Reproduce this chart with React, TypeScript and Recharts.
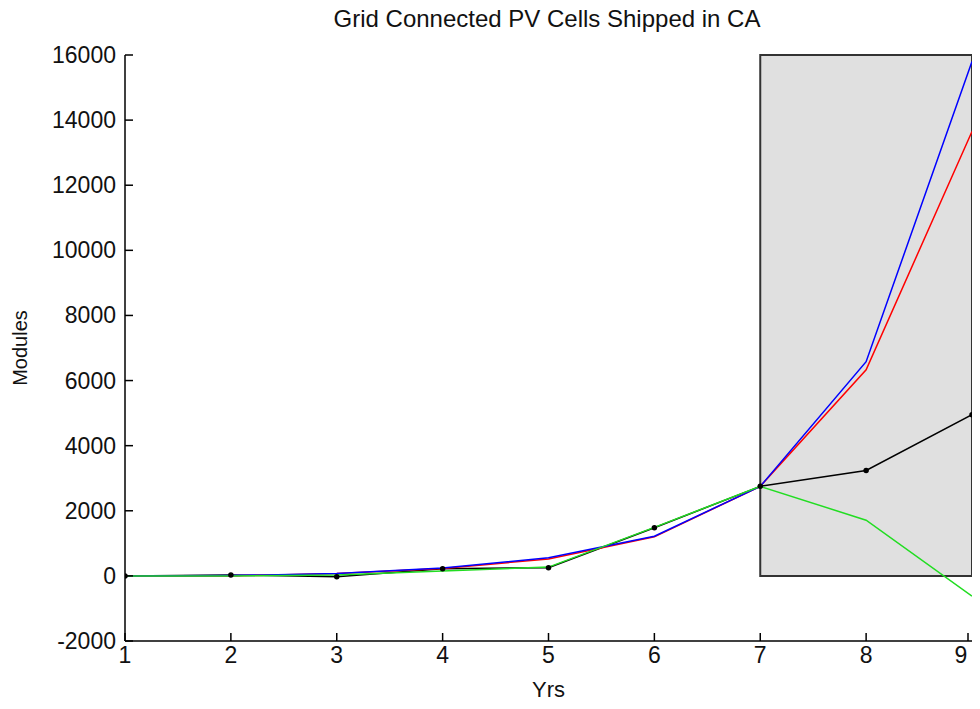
import React from 'react';
import { LineChart, Line, XAxis, YAxis, ReferenceArea } from 'recharts';

const years = [1, 2, 3, 4, 5, 6, 7, 8, 9];
const actual = [0, 30, -30, 220, 250, 1480, 2750, 3240, 4950];
const redSeries = [0, 0, 70, 230, 520, 1200, 2750, 6330, 13650];
const blueSeries = [0, 10, 70, 240, 560, 1220, 2750, 6580, 15800];
const greenSeries = [0, 0, 30, 150, 270, 1490, 2750, 1710, -620];
const xTicks = [1, 2, 3, 4, 5, 6, 7, 8, 9];
const yTicks = [-2000, 0, 2000, 4000, 6000, 8000, 10000, 12000, 14000, 16000];

const data = years.map((y, i) => ({
  yr: y,
  actual: actual[i],
  red: redSeries[i],
  blue: blueSeries[i],
  green: greenSeries[i],
}));

const FONT = '"Liberation Sans", Arial, sans-serif';

const XTick = (props: any) => {
  const { x, y, payload } = props;
  return (
    <g>
      <line x1={x} y1={y} x2={x} y2={y - 8} stroke="#000" strokeWidth={1.5} />
      <text x={payload.value === 9 ? x - 7 : x} y={y + 22} textAnchor="middle" fontSize={23} fontFamily={FONT} fill="#111">
        {payload.value}
      </text>
    </g>
  );
};

const YTick = (props: any) => {
  const { x, y, payload } = props;
  return (
    <g>
      <line x1={x} y1={y} x2={x + 8} y2={y} stroke="#000" strokeWidth={1.5} />
      <text x={x - 9} y={y + 8} textAnchor="end" fontSize={23} fontFamily={FONT} fill="#111">
        {payload.value}
      </text>
    </g>
  );
};

export default function App() {
  return (
    <div style={{ width: 964, height: 693, background: '#fff', position: 'relative' }}>
      <LineChart
        width={964}
        height={693}
        data={data}
        margin={{ top: 47, right: 0, bottom: 0, left: 0 }}
      >
        <XAxis
          dataKey="yr"
          type="number"
          domain={[1, 9]}
          ticks={xTicks}
          allowDataOverflow
          tickSize={0}
          tickMargin={0}
          tickLine={false}
          height={60}
          stroke="#000"
          strokeWidth={1.5}
          tick={<XTick />}
          label={{ value: 'Yrs', position: 'insideBottom', offset: 4, fontSize: 22, fontFamily: FONT, fill: '#111' }}
        />
        <YAxis
          type="number"
          domain={[-2000, 16000]}
          ticks={yTicks}
          allowDataOverflow
          tickSize={0}
          tickMargin={0}
          tickLine={false}
          width={117}
          stroke="#000"
          strokeWidth={1.5}
          tick={<YTick />}
          label={{ value: 'Modules', angle: -90, position: 'insideLeft', offset: 0, dx: 12, fontSize: 20, fontFamily: FONT, fill: '#111', style: { textAnchor: 'middle' } }}
        />
        <ReferenceArea
          x1={7}
          x2={9}
          y1={0}
          y2={16000}
          fill="#e0e0e0"
          fillOpacity={1}
          stroke="#333"
          strokeWidth={2}
          ifOverflow="visible"
        />
        <Line dataKey="actual" stroke="#000" strokeWidth={1.5} dot={{ r: 2, fill: '#000', stroke: '#000' }} isAnimationActive={false} />
        <Line dataKey="red" stroke="#ff0000" strokeWidth={1.5} dot={false} isAnimationActive={false} />
        <Line dataKey="blue" stroke="#0000ff" strokeWidth={1.5} dot={false} isAnimationActive={false} />
        <Line dataKey="green" stroke="#22dd22" strokeWidth={1.5} dot={false} isAnimationActive={false} />
      </LineChart>
      <div
        style={{
          position: 'absolute',
          left: 0,
          width: 1078,
          top: -1,
          textAlign: 'center',
          fontFamily: FONT,
          fontSize: 24,
          color: '#111',
          lineHeight: '24px',
        }}
      >
        Grid Connected PV Cells Shipped in CA
      </div>
    </div>
  );
}
